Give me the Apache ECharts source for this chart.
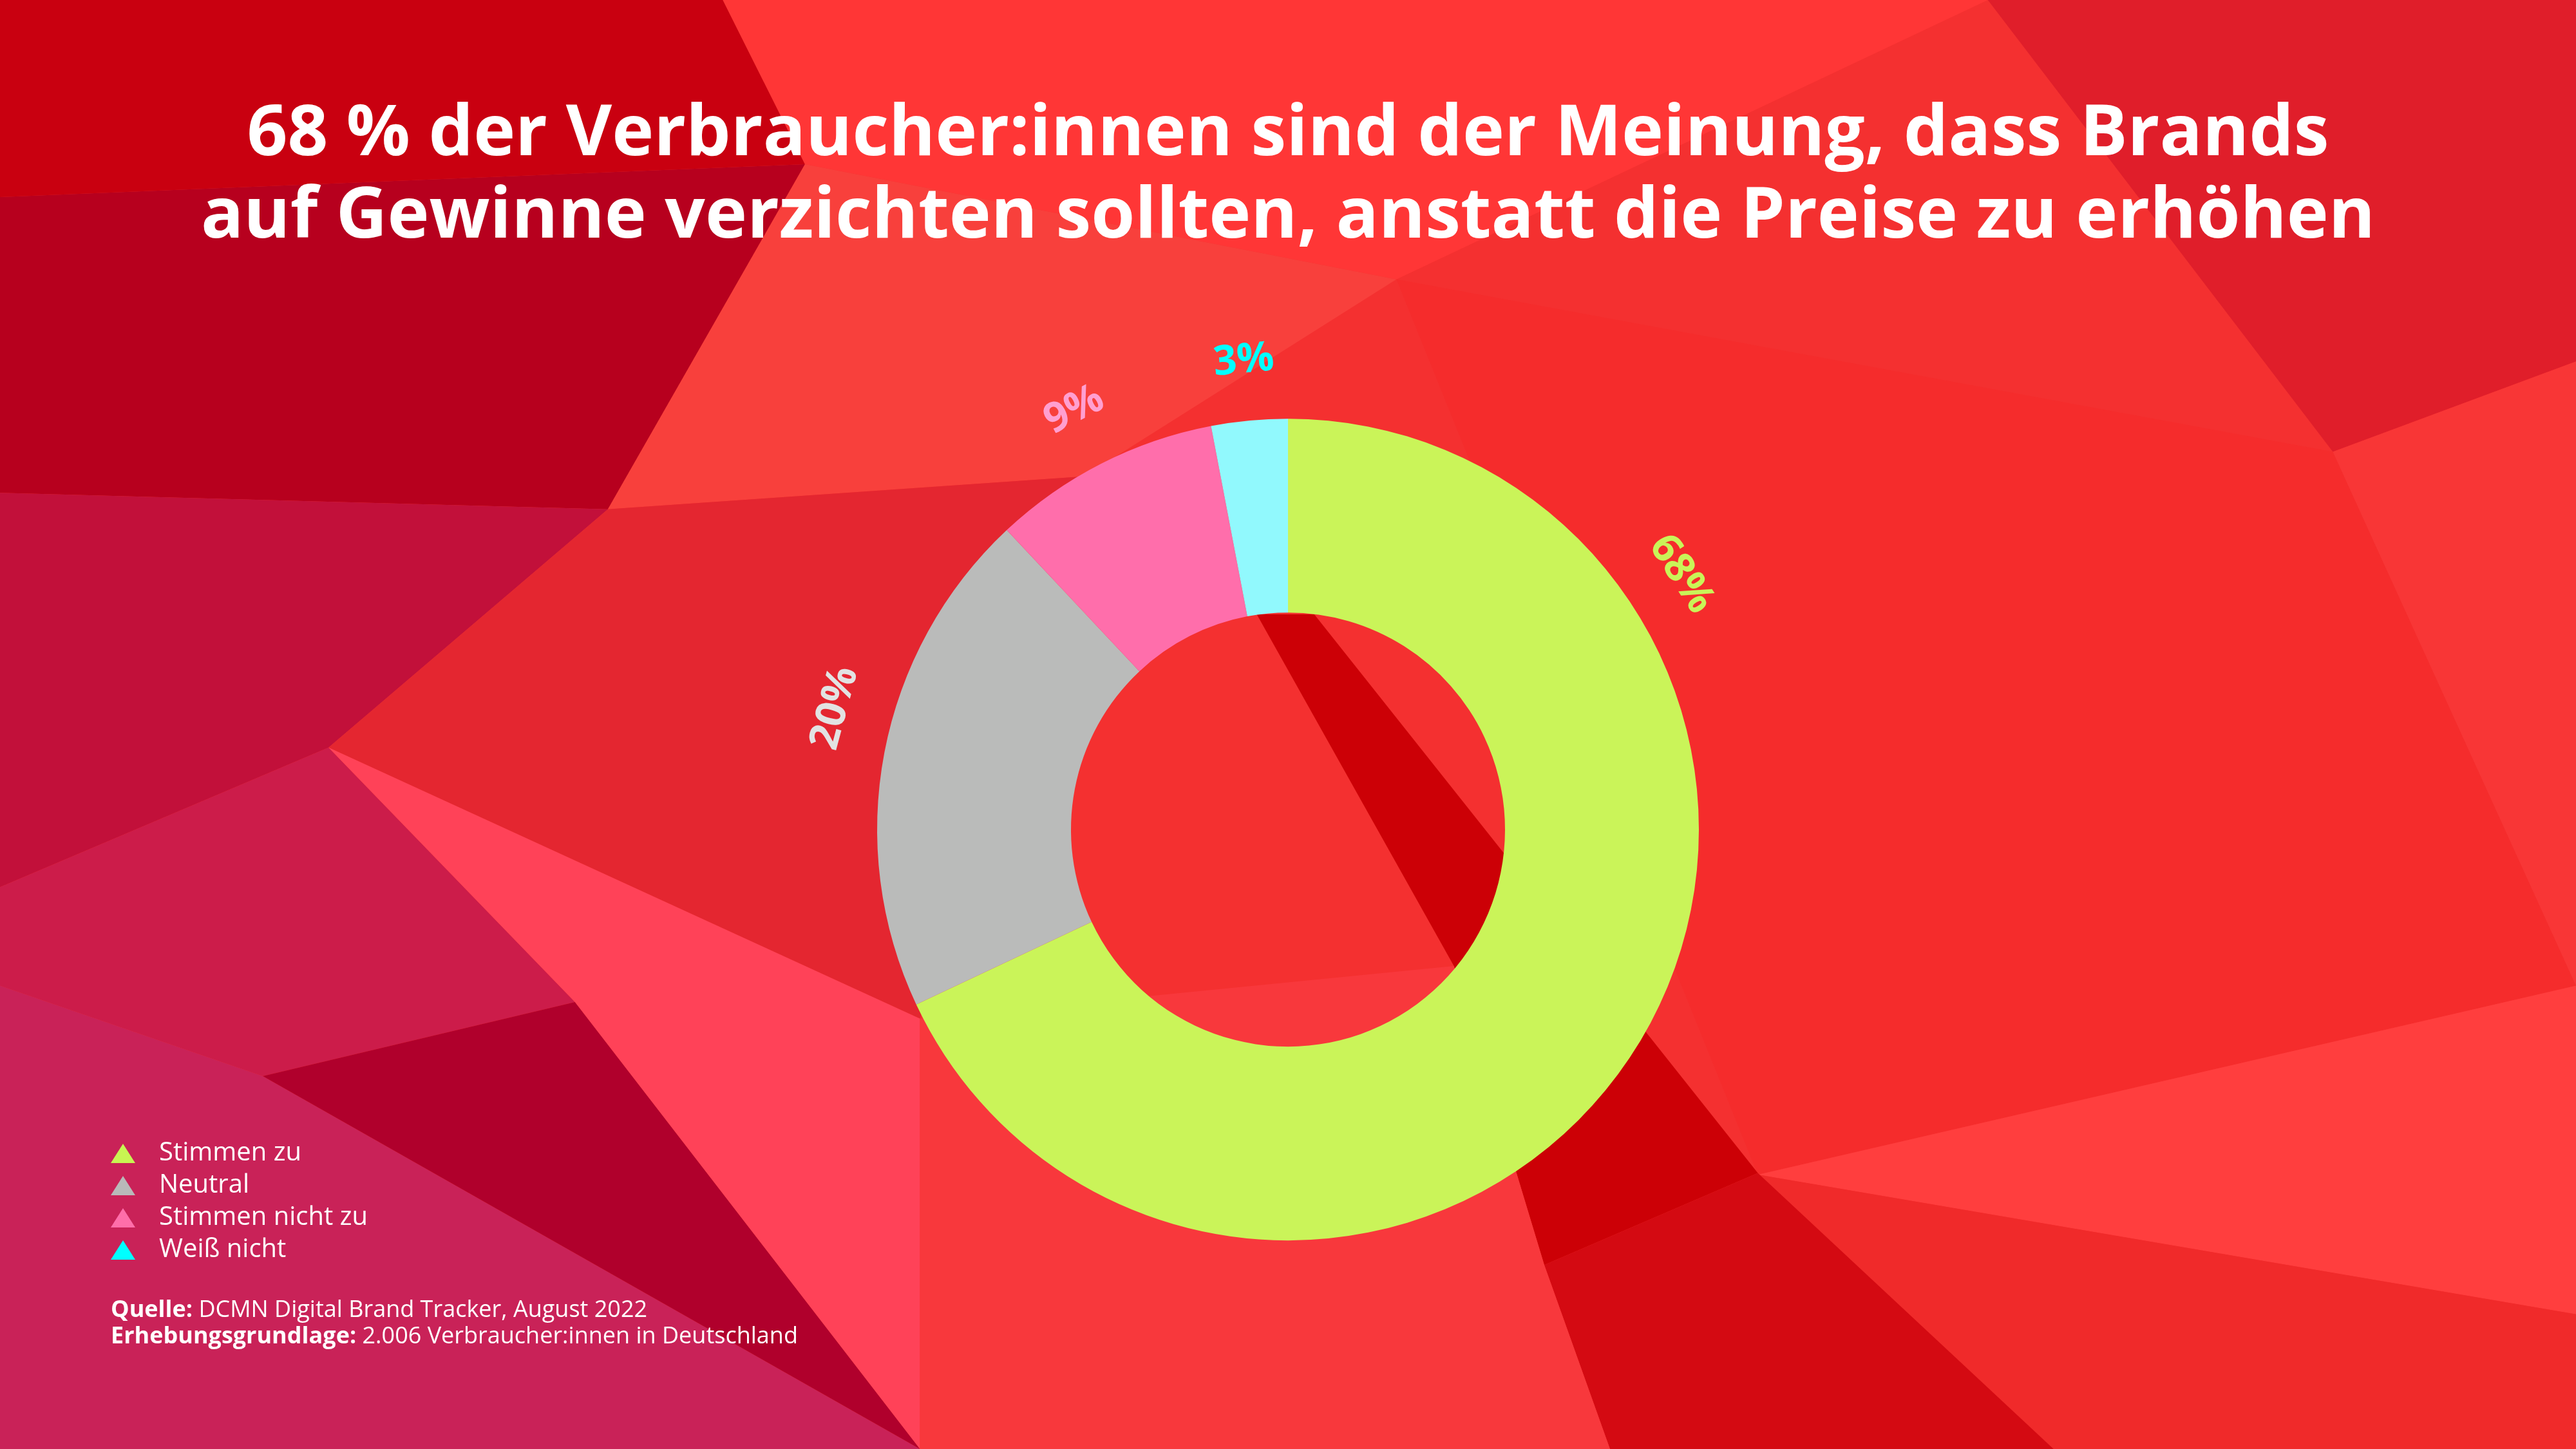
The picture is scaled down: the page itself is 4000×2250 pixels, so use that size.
<!DOCTYPE html>
<html>
<head>
<meta charset="utf-8">
<script src="https://cdn.jsdelivr.net/npm/echarts@6/dist/echarts.min.js"></script>
<style>
  html, body { margin: 0; padding: 0; }
  #main { width: 4000px; height: 2250px; }
</style>
</head>
<body>
<div id="main"></div>
<script>
// Umfrage-Daten
var categories = ['Stimmen zu', 'Neutral', 'Stimmen nicht zu', 'Weiß nicht'];
var values = [68, 20, 9, 3];
var sliceColors = ['#CAF459', '#BABBBA', '#FF6EAB', '#91F9FD'];
var labelColors = ['#C9F458', '#E2E2E2', '#FF9FD0', '#00FFFF'];
var legendColors = ['#C8F552', '#B9B9B9', '#FF6EAA', '#00FFFF'];

var titleText = '68 % der Verbraucher:innen sind der Meinung, dass Brands\nauf Gewinne verzichten sollten, anstatt die Preise zu erhöhen';

// Hintergrund-Facetten (Deko, in 1568er Koordinaten, werden hochskaliert)
var S = 4000 / 1568;
var facets = [
    [[[0,0],[440,0],[490,100],[0,120]], '#C90010'],
    [[[440,0],[1210,0],[850,170],[490,100]], '#FF3636'],
    [[[0,120],[490,100],[370,310],[0,300]], '#B7001E'],
    [[[490,100],[850,170],[660,290],[370,310]], '#F8403C'],
    [[[0,300],[370,310],[200,455],[0,540]], '#C2103A'],
    [[[0,540],[200,455],[350,610],[160,655],[0,600]], '#CC1C4A'],
    [[[0,600],[160,655],[560,882],[0,882]], '#C92258'],
    [[[160,655],[350,610],[560,882]], '#B0002C'],
    [[[370,310],[660,290],[560,620],[200,455]], '#E42630'],
    [[[200,455],[560,620],[560,882],[350,610]], '#FF4258'],
    [[[1210,0],[1568,0],[1568,220],[1420,275]], '#E01E2A'],
    [[[850,170],[1420,275],[1568,600],[1070,715]], '#F52C2C'],
    [[[1420,275],[1568,220],[1568,600]], '#F83636'],
    [[[1070,715],[1568,600],[1568,800]], '#FF3E3E'],
    [[[1070,715],[1568,800],[1568,882],[1250,882]], '#F02A2A'],
    [[[765,374],[800,374],[1070,714],[940,770],[885,588]], '#CC0006'],
    [[[940,770],[1070,714],[1250,882],[980,882]], '#D40A12'],
    [[[560,620],[885,588],[940,770],[980,882],[560,882]], '#F8383C']
];
var graphics = facets.map(function (f) {
    return {
        type: 'polygon',
        z: -10,
        silent: true,
        shape: { points: f[0].map(function (p) { return [p[0] * S, p[1] * S]; }) },
        style: { fill: f[1] }
    };
});

var chart = echarts.init(document.getElementById('main'));

var CENTER_Y = 0.5725;
var LABEL_R = 728;
// Beschriftungen, die nicht mittig am Segment sitzen (Grad im Uhrzeigersinn von oben)
var labelAngleOverride = { 0: 57, 1: 285 };

var option = {
    backgroundColor: '#F43030',
    graphic: graphics,
    title: [{
        text: titleText,
        left: 'center',
        top: 141,
        textStyle: {
            color: '#FFFFFF',
            fontFamily: 'Open Sans',
            fontWeight: 700,
            fontSize: 110,
            lineHeight: 128
        }
    }, {
        text: '{b|Quelle:} DCMN Digital Brand Tracker, August 2022\n{b|Erhebungsgrundlage:} 2.006 Verbraucher:innen in Deutschland',
        left: 167,
        top: 2009,
        textStyle: {
            color: '#FFFFFF',
            fontFamily: 'Open Sans',
            fontWeight: 400,
            fontSize: 36,
            lineHeight: 41,
            rich: {
                b: { fontFamily: 'Open Sans', fontWeight: 700, fontSize: 36, color: '#FFFFFF', lineHeight: 41 }
            }
        }
    }],
    legend: {
        orient: 'vertical',
        left: 167,
        top: 1766,
        icon: 'triangle',
        itemWidth: 38,
        itemHeight: 30,
        itemGap: 10,
        textStyle: {
            color: '#FFFFFF',
            fontFamily: 'Open Sans',
            fontSize: 40,
            padding: [0, 0, 0, 32]
        },
        data: categories.map(function (c, i) {
            return { name: c, itemStyle: { color: legendColors[i] } };
        })
    },
    series: [{
        name: 'Meinung',
        type: 'pie',
        center: ['50%', (CENTER_Y * 100) + '%'],
        radius: [337, 638],
        startAngle: 90,
        clockwise: true,
        label: { show: false },
        labelLine: { show: false },
        emphasis: { disabled: true },
        data: categories.map(function (c, i) {
            return { name: c, value: values[i], itemStyle: { color: sliceColors[i] } };
        })
    }, {
        // unsichtbarer Ring nur für die Prozent-Beschriftungen
        name: 'Beschriftung',
        type: 'pie',
        center: ['50%', (CENTER_Y * 100) + '%'],
        radius: [LABEL_R - 40, LABEL_R + 40],
        startAngle: 90,
        clockwise: true,
        silent: true,
        legendHoverLink: false,
        itemStyle: { color: 'transparent' },
        label: {
            show: true,
            position: 'inside',
            rotate: 'tangential',
            formatter: '{c}%',
            fontFamily: 'Open Sans',
            fontWeight: 700,
            fontSize: 64
        },
        labelLine: { show: false },
        labelLayout: function (params) {
            var deg = labelAngleOverride[params.dataIndex];
            if (deg == null) return {};
            var w = chart.getWidth(), h = chart.getHeight();
            var a = deg * Math.PI / 180;
            return {
                x: w / 2 + LABEL_R * Math.sin(a),
                y: h * CENTER_Y - LABEL_R * Math.cos(a),
                rotate: deg > 180 ? 360 - deg : -deg,
                align: 'center',
                verticalAlign: 'middle'
            };
        },
        data: categories.map(function (c, i) {
            return {
                name: c + ' ',
                value: values[i],
                label: { color: labelColors[i] }
            };
        })
    }]
};

chart.setOption(option);
</script>
</body>
</html>
